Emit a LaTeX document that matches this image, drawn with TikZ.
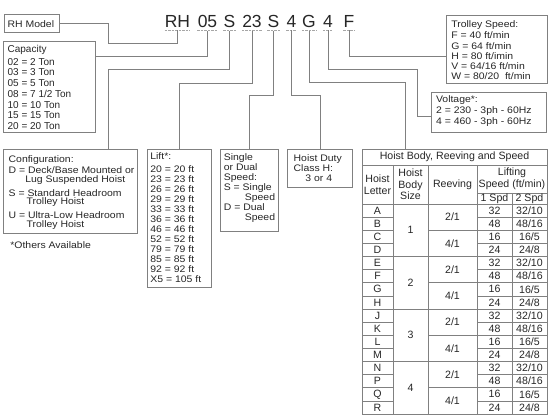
\documentclass[tikz,border=0pt]{standalone}
\usepackage{fontspec}
\setmainfont{Liberation Sans}
\newfontfamily\widefont{Liberation Sans}[FakeStretch=1.1]

\begin{document}
\begin{tikzpicture}
	[x=1pt,y=-1pt,line width=0.7pt,text=black!85,
		conn/.style={draw=black!50},
		grid/.style={draw=black!50},
		frame/.style={draw=black!50,anchor=north west,inner sep=0pt},
		txt/.style={anchor=north west,align=left,inner sep=0pt},
		code/.style={anchor=base,inner xsep=0pt,inner ysep=2.5pt,font=\fontsize{17.5}{20}\selectfont},
		uline/.style={draw=black!35,dash pattern=on 2.5pt off 1pt,line width=0.6pt},
		cell/.style={inner sep=0pt,align=center,font=\fontsize{10.6}{11.5}\selectfont}]

	\useasboundingbox (0,0) rectangle (550,420);

	% model number
	\node[code] (cRH)   at (177.5,27.5) {RH};
	\node[code] (cCap)  at (207.5,27.5) {05};
	\node[code] (cCfg)  at (229.5,27.5) {S};
	\node[code] (cLift) at (252,27.5) {23};
	\node[code] (cSpd)  at (273.5,27.5) {S};
	\node[code] (cDuty) at (291.5,27.5) {4};
	\node[code] (cBody) at (309,27.5) {G};
	\node[code] (cVolt) at (328,27.5) {4};
	\node[code] (cTrol) at (349,27.5) {F};
	\foreach \c in {cRH,cCap,cCfg,cLift,cSpd,cDuty,cBody,cVolt,cTrol}
		\draw[uline] (\c.south west) -- (\c.south east);

	% option boxes
	\node[frame,minimum width=55pt,minimum height=18.5pt] (model) at (3.5,14) {};
	\node[txt,font=\fontsize{9.5}{11}\widefont] (modelT) at (7.3,19.8) {RH Model};

	\node[frame,minimum width=91.7pt,minimum height=90.7pt] (cap) at (3.3,41) {};
	\node[txt,font=\fontsize{10}{10.7}\selectfont] (capT) at (7.3,45)
		{Capacity\\[2pt]02 = 2 Ton\\03 = 3 Ton\\05 = 5 Ton\\08 = 7 1/2 Ton\\10 = 10 Ton\\15 = 15 Ton\\20 = 20 Ton};

	\node[frame,minimum width=133.4pt,minimum height=84.3pt] (cfg) at (3.3,149) {};
	\node[txt,font=\fontsize{9.5}{8.6}\widefont] (cfgT) at (8.3,154.8)
		{Configuration:\\[2pt]D = Deck/Base Mounted or\\\hspace*{16.7pt}Lug Suspended Hoist\\[3.9pt]S = Standard Headroom\\\hspace*{18pt}Trolley Hoist\\[3.9pt]U = Ultra-Low Headroom\\\hspace*{18pt}Trolley Hoist};
	\node[anchor=base west,inner sep=0pt,font=\fontsize{9.5}{11}\widefont] (note) at (10,248.5) {*Others Available};

	\node[frame,minimum width=64pt,minimum height=137.5pt] (lift) at (146.7,149) {};
	\node[txt,font=\fontsize{9.5}{10}\widefont] (liftT) at (150,152.1)
		{Lift*:\\[2.7pt]20 = 20 ft\\23 = 23 ft\\26 = 26 ft\\29 = 29 ft\\33 = 33 ft\\36 = 36 ft\\46 = 46 ft\\52 = 52 ft\\79 = 79 ft\\85 = 85 ft\\92 = 92 ft\\X5 = 105 ft};

	\node[frame,minimum width=58pt,minimum height=82pt] (spd) at (220,149) {};
	\node[txt,font=\fontsize{9.5}{10.1}\widefont] (spdT) at (223.5,153.1)
		{Single\\or Dual\\Speed:\\S = Single\\\hspace*{21pt}Speed\\D = Dual\\\hspace*{21pt}Speed};

	\node[frame,minimum width=65pt,minimum height=38.3pt] (duty) at (287.3,149) {};
	\node[txt,font=\fontsize{9.5}{10.2}\widefont] (dutyT) at (293.3,153.8)
		{Hoist Duty\\Class H:\\\hspace*{11.7pt}3 or 4};

	\node[frame,minimum width=101pt,minimum height=68.6pt] (troll) at (445.7,14.7) {};
	\node[txt,font=\fontsize{9.5}{10.3}\widefont] (trollT) at (451,19.8)
		{Trolley Speed:\\[1.4pt]F = 40 ft/min\\G = 64 ft/min\\H = 80 ft/imin\\V = 64/16 ft/min\\W = 80/20\ \ ft/min};

	\node[frame,minimum width=115.3pt,minimum height=39.4pt] (volt) at (430.7,92.3) {};
	\node[txt,font=\fontsize{9.5}{11}\widefont] (voltT) at (435.7,95.1)
		{Voltage*:\\2 = 230 - 3ph - 60Hz\\4 = 460 - 3ph - 60Hz};

	\node[frame,minimum width=185pt,minimum height=265pt] (tbl) at (362,149) {};

	% connectors
	\draw[conn] (model.east) -| (108,43) -| (cRH.south);
	\draw[conn] ([yshift=-15pt]cap.north east) -| (cCap.south);
	\draw[conn] (cCfg.south) -- ++(0,39) -| ([xshift=104.7pt]cfg.north west);
	\draw[conn] (cLift.south) -- ++(0,53) -| (lift.north);
	\draw[conn] (cSpd.south) -- ++(0,65) -| (spd.north);
	\draw[conn] (cDuty.south) -- ++(0,65) -| (duty.north);
	\draw[conn] (cBody.south) -- ++(0,52) -| ([xshift=43pt]tbl.north west);
	\draw[conn] (cVolt.south) -- ++(0,39) -| ([xshift=-13pt,yshift=-4pt]volt.west) -- ([yshift=-4pt]volt.west);
	\draw[conn] (cTrol.south) |- ([yshift=-7pt]troll.west);

	% hoist body table
	\draw[grid] (362,165) -- (547,165) (362,204) -- (547,204) (477,193) -- (547,193) (512,193) -- (512,414);
	\foreach \x in {393,428,477}
		\draw[grid] (\x,165) -- (\x,414);
	\foreach \k in {1,...,15}
		\draw[grid] (362,{204+13.125*\k}) -- (393,{204+13.125*\k}) (477,{204+13.125*\k}) -- (547,{204+13.125*\k});
	\foreach \k in {2,4,...,14}
		\draw[grid] (428,{204+13.125*\k}) -- (477,{204+13.125*\k});
	\foreach \k in {4,8,12}
		\draw[grid] (393,{204+13.125*\k}) -- (428,{204+13.125*\k});

	\node[cell] (ttl) at (454.5,157) {Hoist Body, Reeving and Speed};
	\node[cell] (hLet) at (377.5,184.5) {Hoist\\Letter};
	\node[cell] (hBody) at (410.5,184.5) {Hoist\\Body\\Size};
	\node[cell] (hReev) at (452.5,184.5) {Reeving};
	\node[cell] (hLift) at (512,179) {Lifting\\Speed (ft/min)};
	\node[cell] (hOne) at (494.5,198.5) {1 Spd};
	\node[cell] (hTwo) at (529.5,198.5) {2 Spd};

	\foreach \l [count=\i from 0] in {A,B,C,D,E,F,G,H,J,K,L,M,N,P,Q,R}
		\node[cell] (let\l) at (377.5,{210.56+13.125*\i}) {\l};
	\foreach \g in {1,...,4}
		\node[cell] (body\g) at (410.5,{204+13.125*(4*\g-2)}) {\g};
	\foreach \r [count=\k from 0] in {2/1,4/1,2/1,4/1,2/1,4/1,2/1,4/1}
		\node[cell] (reev\k) at (452.5,{204+13.125*(2*\k+1)}) {\r};
	\foreach \g in {0,...,3}
		\foreach \s/\t [count=\j from 0] in {32/{32/10},48/{48/16},16/{16/5},24/{24/8}} {
			\node[cell] (one\g\j) at (494.5,{210.56+13.125*(4*\g+\j)}) {\s};
			\node[cell] (two\g\j) at (529.5,{210.56+13.125*(4*\g+\j)}) {\t};
		}
\end{tikzpicture}
\end{document}
